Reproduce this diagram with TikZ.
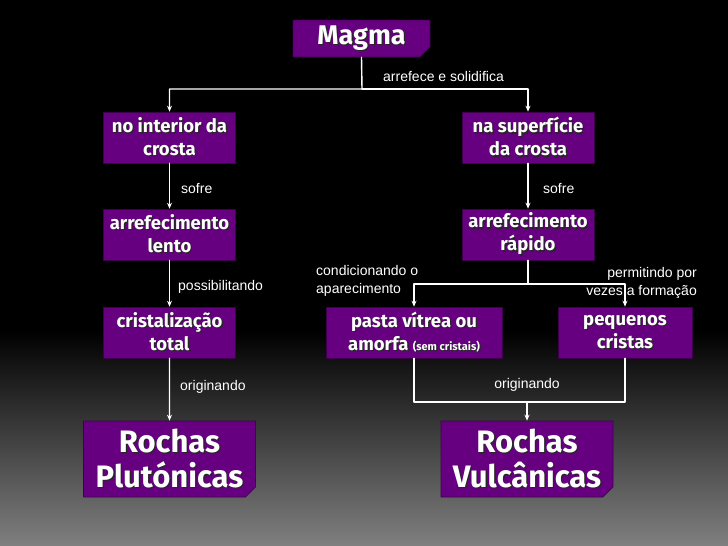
\documentclass[tikz,border=0pt]{standalone}
\usepackage{fontspec}
\usetikzlibrary{arrows.meta,shapes.misc}
\newfontfamily\boxfont{Fira Sans}
\newfontfamily\lblfont{Liberation Sans}
\definecolor{roxo}{RGB}{102,0,128}
\newcommand\sombra[1]{\leavevmode\rlap{\kern1.3pt\raisebox{-1.3pt}{\color{black!85}#1}}#1}

\begin{document}
\begin{tikzpicture}[x=1pt, y=-1pt, line cap=round, line join=round,
  caixa/.style={rectangle, fill=roxo, draw=roxo!60!black, line width=0.6pt,
    text=white, align=center, inner sep=0pt, minimum width=132, minimum height=51,
    font=\boxfont\bfseries\fontsize{18.5}{23}\selectfont},
  dobra/.style={caixa, chamfered rectangle, chamfered rectangle corners=south east,
    chamfered rectangle xsep=5pt, chamfered rectangle ysep=5pt},
  ligacao/.style={draw=white, line width=1.4pt, -{Stealth[length=6pt,width=5pt]}},
  rotulo/.style={text=white, inner sep=0pt, font=\lblfont\fontsize{14}{18}\selectfont}]

%-----------------------
% 背景：上黑下灰
%-----------------------
\useasboundingbox (0,0) rectangle (728,546);
\fill[black] (0,0) rectangle (728,331);
\shade[top color=black, bottom color=black!50] (0,330) rectangle (728,546);

%-----------------------
% 方框
%-----------------------
\node[dobra, minimum width=137, minimum height=37,
  font=\boxfont\bfseries\fontsize{27}{29}\selectfont] (magma) at (361.5,38.5) {\sombra{Magma}};

\node[caixa] (interior)   at (169.5,137.5) {\sombra{no interior da}\\\sombra{crosta}};
\node[caixa] (superficie) at (528,137.5) {\sombra{na superfície}\\\sombra{da crosta}};
\node[caixa] (lento)      at (169.5,234.5) {\sombra{arrefecimento}\\\sombra{lento}};
\node[caixa] (rapido)     at (528,234.5) {\sombra{arrefecimento}\\\sombra{rápido}};

\node[caixa] (cristal)  at (169.5,332.5) {\sombra{cristalização}\\\sombra{total}};
\node[caixa, minimum width=176] (pasta) at (414,332.5)
  {\sombra{pasta vítrea ou}\\\sombra{amorfa {\fontsize{11}{13}\selectfont(sem cristais)}}};
\node[caixa, minimum width=134] (pequenos) at (625,332.5) {\sombra{pequenos}\\\sombra{cristas}};

\node[dobra, minimum width=172, minimum height=76,
  font=\boxfont\bfseries\fontsize{31}{35}\selectfont] (plut) at (169.5,459) {\sombra{Rochas}\\\sombra{Plutónicas}};
\node[dobra, minimum width=172, minimum height=76,
  font=\boxfont\bfseries\fontsize{31}{35}\selectfont] (vulc) at (527,459) {\sombra{Rochas}\\\sombra{Vulcânicas}};

%-----------------------
% 连线：分叉点用坐标
%-----------------------
\coordinate (div1) at (362,89);
\coordinate (div2) at (528,284);
\coordinate (junta) at (527,402);

\draw[ligacao] (magma.south) -- (div1) -| (interior.north);
\draw[ligacao] (div1) -| (superficie.north);

\draw[ligacao] (interior) -- (lento);
\draw[ligacao] (superficie) -- (rapido);
\draw[ligacao] (lento) -- (cristal);
\draw[ligacao] (cristal) -- (plut);

\draw[ligacao] (rapido.south) -- (div2) -| (pasta.north);
\draw[ligacao] (div2) -| (pequenos.north);

\draw[ligacao, -] (pasta.south) |- (junta) -| (pequenos.south);
\draw[ligacao] (junta) -- (vulc.north);

%-----------------------
% 标注
%-----------------------
\node[rotulo, anchor=west] (t1) at (383,76) {arrefece e solidifica};
\node[rotulo, anchor=west] (t2) at (181,188) {sofre};
\node[rotulo, anchor=west] (t3) at (543,188) {sofre};
\node[rotulo, anchor=west] (t4) at (178,287) {possibilitando};
\node[rotulo, anchor=west, align=left] (t5) at (316,281) {condicionando o\\aparecimento};
\node[rotulo, anchor=east, align=right] (t6) at (697,283) {permitindo por\\vezes a formação};
\node[rotulo, anchor=west] (t7) at (180,387) {originando};
\node[rotulo] (t8) at (527,385) {originando};

\end{tikzpicture}
\end{document}
